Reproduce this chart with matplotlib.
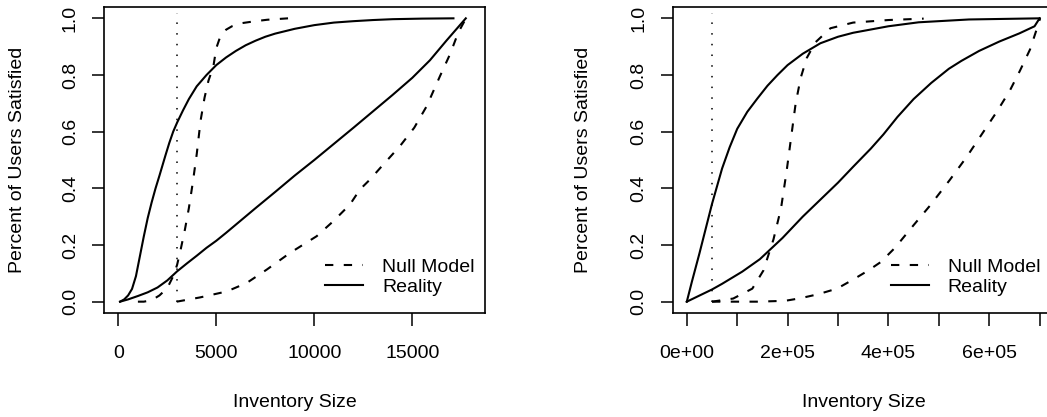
import matplotlib
matplotlib.use("Agg")
import matplotlib.pyplot as plt

plt.rcParams["font.family"] = ["Liberation Sans", "DejaVu Sans"]
plt.rcParams["font.size"] = 14

# left panel: small inventory
left_real_hi_x = [90, 300, 500, 700, 900, 1100, 1300, 1500, 1700, 1900, 2100, 2400, 2600, 2800,
                  3000, 3300, 3600, 4000, 4500, 5000, 5500, 6000, 6500, 7000, 7500, 8000, 9000,
                  10000, 11000, 12000, 13000, 14000, 15500, 17100]
left_real_hi_y = [0, 0.008, 0.022, 0.045, 0.09, 0.16, 0.23, 0.295, 0.35, 0.40, 0.445, 0.515, 0.56,
                  0.60, 0.632, 0.675, 0.715, 0.76, 0.80, 0.835, 0.862, 0.885, 0.905, 0.921, 0.935,
                  0.946, 0.963, 0.976, 0.985, 0.99, 0.994, 0.997, 0.999, 1.0]
left_real_lo_x = [90, 500, 1000, 1500, 2000, 2500, 3000, 3500, 4000, 4500, 5000, 5500, 6000, 7000,
                  8000, 9000, 10000, 11000, 12000, 13000, 14000, 15000, 15900, 16750, 17730]
left_real_lo_y = [0, 0.008, 0.02, 0.033, 0.05, 0.075, 0.107, 0.135, 0.162, 0.19, 0.215, 0.243,
                  0.272, 0.33, 0.387, 0.445, 0.50, 0.557, 0.614, 0.672, 0.73, 0.79, 0.852, 0.922,
                  1.0]
left_null_hi_x = [1000, 1300, 1700, 2100, 2500, 2800, 3000, 3200, 3400, 3600, 3800, 4000, 4200,
                  4400, 4600, 4850, 5000, 5200, 5500, 5800, 6300, 7000, 7600, 8660]
left_null_hi_y = [0, 0, 0.005, 0.022, 0.048, 0.09, 0.13, 0.19, 0.255, 0.33, 0.42, 0.52, 0.64,
                  0.72, 0.78, 0.83, 0.895, 0.935, 0.96, 0.972, 0.983, 0.99, 0.995, 1.0]
left_null_lo_x = [2980, 4170, 5530, 6550, 7570, 8760, 10120, 10970, 11820, 12330, 12840, 13520,
                  14370, 15100, 15735, 16413, 16923, 17347, 17740]
left_null_lo_y = [0, 0.015, 0.036, 0.066, 0.113, 0.172, 0.231, 0.284, 0.343, 0.396, 0.431, 0.484,
                  0.549, 0.614, 0.69, 0.796, 0.873, 0.95, 1.0]
left_cut = 3000

# right panel: large inventory
right_real_hi_x = [0, 10000, 25000, 50000, 70000, 85000, 100000, 120000, 140000, 160000, 180000,
                   200000, 230000, 265000, 300000, 330000, 400000, 460000, 560000, 700000]
right_real_hi_y = [0, 0.07, 0.17, 0.345, 0.47, 0.545, 0.61, 0.67, 0.717, 0.762, 0.80, 0.835,
                   0.875, 0.912, 0.935, 0.949, 0.972, 0.986, 0.996, 1.0]
right_real_lo_x = [0, 50000, 70000, 110000, 145000, 190000, 230000, 265000, 300000, 330000,
                   365000, 390000, 418000, 450000, 485000, 520000, 545000, 580000, 620000,
                   660000, 690000, 700000]
right_real_lo_y = [0, 0.043, 0.063, 0.106, 0.15, 0.225, 0.3, 0.36, 0.42, 0.476, 0.54, 0.59,
                   0.652, 0.715, 0.772, 0.822, 0.85, 0.885, 0.918, 0.947, 0.972, 1.0]
right_null_hi_x = [50000, 92000, 130000, 152000, 172000, 187000, 198000, 207000, 216000, 226000,
                   238000, 255000, 285000, 330000, 400000, 470000]
right_null_hi_y = [0, 0.011, 0.046, 0.11, 0.22, 0.33, 0.46, 0.58, 0.70, 0.79, 0.86, 0.915, 0.965,
                   0.985, 0.994, 0.999]
right_null_lo_x = [50000, 100000, 140000, 195000, 225000, 260000, 298000, 330000, 360000, 385000,
                   413000, 450000, 483000, 522000, 555000, 585000, 615000, 641000, 661000,
                   681000, 694000, 701000]
right_null_lo_y = [0, 0, 0, 0.003, 0.012, 0.026, 0.046, 0.078, 0.11, 0.14, 0.19, 0.27, 0.34, 0.43,
                   0.51, 0.59, 0.67, 0.745, 0.815, 0.89, 0.96, 1.0]
right_cut = 50000

y_ticks = [0, 0.2, 0.4, 0.6, 0.8, 1.0]
y_labels = ["0.0", "0.2", "0.4", "0.6", "0.8", "1.0"]
left_ticks = [0, 5000, 10000, 15000]
left_labels = ["0", "5000", "10000", "15000"]
right_ticks = [0, 100000, 200000, 300000, 400000, 500000, 600000, 700000]
right_labels = ["0e+00", "", "2e+05", "", "4e+05", "", "6e+05", ""]

W, H = 1047, 417
fig = plt.figure(figsize=(W / 100, H / 100), dpi=100)
bottom = 1 - 313 / H
height = 306 / H
ax1 = fig.add_axes([104 / W, bottom, 381 / W, height])
ax2 = fig.add_axes([672.7 / W, bottom, 382 / W, height])

DASH = (0, (4.0, 5.0))
DOT = (0, (1, 6))


def panel(ax, rhx, rhy, rlx, rly, nhx, nhy, nlx, nly, cut, xlim, ticks, labels, leg_x):
    ax.plot(nhx, nhy, color="black", lw=1.5, linestyle=DASH, label="Null Model")
    ax.plot(rhx, rhy, color="black", lw=1.5, label="Reality")
    ax.plot(nlx, nly, color="black", lw=1.5, linestyle=DASH)
    ax.plot(rlx, rly, color="black", lw=1.5)
    ax.plot([cut, cut], [0, 1.02], color="black", lw=1.1, linestyle=DOT)
    ax.set_xlim(xlim)
    ax.set_ylim(-0.04, 1.04)
    ax.set_xticks(ticks)
    ax.set_xticklabels(labels)
    ax.set_yticks(y_ticks)
    ax.set_yticklabels(y_labels, rotation=90, va="center")
    ax.tick_params(direction="out", length=9, width=1.1, pad=14, labelsize=14)
    ax.tick_params(axis="y", pad=9)
    for s in ax.spines.values():
        s.set_linewidth(1.2)
    ax.set_xlabel("Inventory Size", fontsize=14)
    ax.set_ylabel("Percent of Users Satisfied", fontsize=14)
    ax.xaxis.set_label_coords(0.5, -0.291)
    ax.xaxis.label.set_va("center")
    ax.yaxis.label.set_va("center")
    ax.legend(loc="center left", bbox_to_anchor=(leg_x, 0.1176), frameon=False, fontsize=14,
              handlelength=1.95, handletextpad=0.98, labelspacing=0.1, borderpad=0,
              borderaxespad=0)


panel(ax1, left_real_hi_x, left_real_hi_y, left_real_lo_x, left_real_lo_y,
      left_null_hi_x, left_null_hi_y, left_null_lo_x, left_null_lo_y, left_cut,
      (-730, 18710), left_ticks, left_labels, 0.580)
ax1.yaxis.set_label_coords(-0.228, 0.5)

panel(ax2, right_real_hi_x, right_real_hi_y, right_real_lo_x, right_real_lo_y,
      right_null_hi_x, right_null_hi_y, right_null_lo_x, right_null_lo_y, right_cut,
      (-28000, 730000), right_ticks, right_labels, 0.571)
ax2.yaxis.set_label_coords(-0.234, 0.5)

fig.savefig("out.png", dpi=100)
